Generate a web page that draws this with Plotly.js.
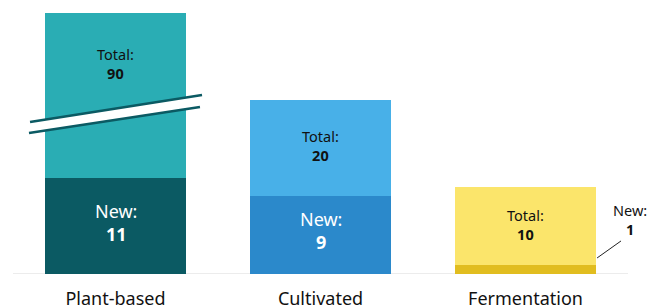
<!DOCTYPE html>
<html>
<head>
<meta charset="utf-8">
<script src="https://cdn.plot.ly/plotly-3.0.1.min.js"></script>
<style>html,body{margin:0;padding:0;background:#fff;}#chart{width:651px;height:308px;}</style>
</head>
<body>
<div id="chart"></div>
<script>
// Data
const categories = ["Plant-based", "Cultivated", "Fermentation"];
const totalValues = [90, 20, 10];
const newValues = [11, 9, 1];
const newColors = ["#0b5a63", "#2b89cb", "#e1bd1f"];
const restColors = ["#2aadb4", "#48b0e8", "#fbe56b"];

// Broken axis: values above this are drawn truncated at this height
const axisCap = 30;
const breakLow = 16.2, breakHigh = 20.6;

const shownTotal = totalValues.map(v => Math.min(v, axisCap));
const restValues = shownTotal.map((v, i) => v - newValues[i]);

const FONT = "Noto Sans, Open Sans, sans-serif";

const traces = [
  {type: "bar", x: categories, y: newValues, marker: {color: newColors, line: {width: 0}}, hoverinfo: "skip"},
  {type: "bar", x: categories, y: restValues, marker: {color: restColors, line: {width: 0}}, hoverinfo: "skip"}
];

const annotations = [];
categories.forEach((c, i) => {
  const broken = totalValues[i] > axisCap;
  const totalMid = broken ? (axisCap + breakHigh) / 2 - 1.3 : (newValues[i] + shownTotal[i]) / 2;
  annotations.push({
    x: c, y: totalMid, xref: "x", yref: "y", showarrow: false,
    text: "Total:<br><b>" + totalValues[i] + "</b>",
    font: {family: FONT, size: 14.5, color: "#111"}, align: "center", yshift: 2
  });
  if (newValues[i] / shownTotal[i] > 0.2) {
    annotations.push({
      x: c, y: newValues[i] / 2, xref: "x", yref: "y", showarrow: false,
      text: "New:<br><b>" + newValues[i] + "</b>",
      font: {family: FONT, size: 18, color: "#ffffff"}, align: "center", yshift: 4
    });
  } else {
    annotations.push({
      x: 1.003, y: newValues[i] + 5.3, xref: "paper", yref: "y", showarrow: false,
      xanchor: "center",
      text: "New:<br><b>" + newValues[i] + "</b>",
      font: {family: FONT, size: 14.5, color: "#111"}, align: "center"
    });
  }
});

const shapes = [
  // baseline
  {type: "line", xref: "paper", yref: "y", x0: 0, x1: 1, y0: 0, y1: 0, line: {color: "#e6e6e6", width: 1.5}, layer: "below"},
  // white break band
  {type: "path", xref: "x", yref: "y",
   path: "M -0.417 17.47 L 0.422 20.57 L 0.412 19.2 L -0.422 16.2 Z",
   fillcolor: "#ffffff", line: {width: 0}},
  {type: "line", xref: "x", yref: "y", x0: -0.417, y0: 17.47, x1: 0.422, y1: 20.57, line: {color: "#0b5a63", width: 2.5}},
  {type: "line", xref: "x", yref: "y", x0: -0.422, y0: 16.2, x1: 0.412, y1: 19.2, line: {color: "#0b5a63", width: 2.5}},
  // leader for small value
  {type: "line", xref: "x", yref: "y", x0: 2.349, y0: 1.84, x1: 2.466, y1: 3.8, line: {color: "#222", width: 1}}
];

const layout = {
  width: 651, height: 308,
  margin: {l: 13, r: 23, t: 13, b: 34},
  paper_bgcolor: "#fff", plot_bgcolor: "#fff",
  barmode: "stack", bargap: 0.317,
  showlegend: false,
  xaxis: {type: "category", range: [-0.5, 2.5], showgrid: false, zeroline: false, showline: false,
          ticks: "", ticklabelstandoff: 12, tickfont: {family: FONT, size: 18, color: "#111"}, fixedrange: true},
  yaxis: {range: [0, axisCap], visible: false, fixedrange: true},
  annotations: annotations,
  shapes: shapes
};

Plotly.newPlot("chart", traces, layout, {displayModeBar: false, staticPlot: true});
</script>
</body>
</html>
